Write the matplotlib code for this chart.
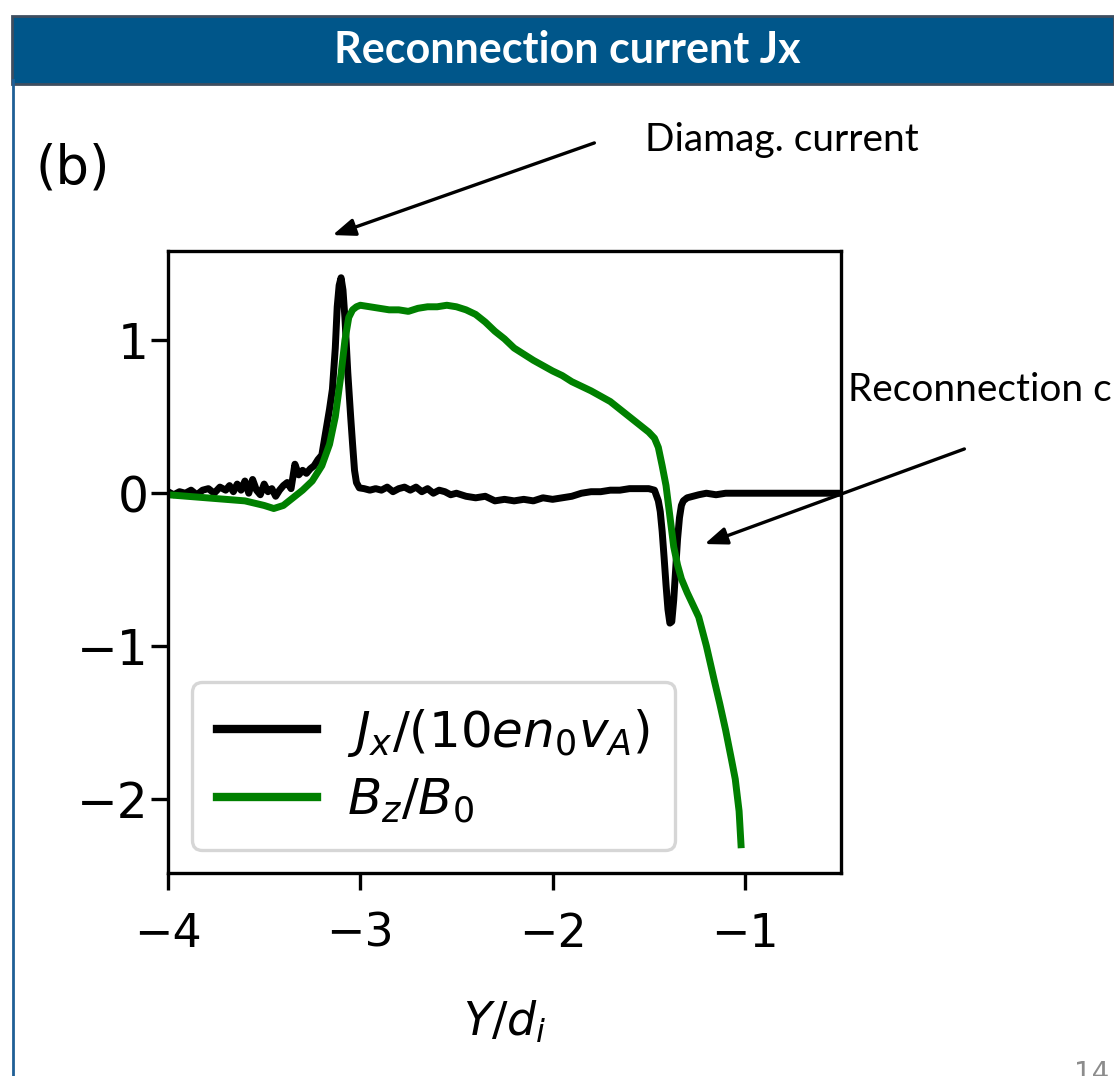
import matplotlib
matplotlib.use("Agg")
import matplotlib.pyplot as plt
from matplotlib.patches import Rectangle, FancyArrowPatch
from matplotlib.lines import Line2D

# ---------------- data ----------------
jx_pos = [-4.00, -3.97, -3.94, -3.91, -3.88, -3.85, -3.82, -3.79, -3.76, -3.73,
          -3.70, -3.68, -3.66, -3.64, -3.62, -3.60, -3.58, -3.56, -3.54, -3.52,
          -3.50, -3.48, -3.46, -3.44, -3.42, -3.40, -3.38, -3.36, -3.34, -3.32,
          -3.30, -3.28, -3.26, -3.24, -3.22, -3.20, -3.18, -3.16, -3.145, -3.13,
          -3.12, -3.11, -3.10, -3.09, -3.08, -3.065, -3.05, -3.04, -3.03, -3.02,
          -3.005, -2.98, -2.95, -2.92, -2.89, -2.86, -2.83, -2.80, -2.77, -2.74,
          -2.71, -2.68, -2.65, -2.62, -2.59, -2.56, -2.53, -2.50, -2.45, -2.40,
          -2.35, -2.30, -2.25, -2.20, -2.15, -2.10, -2.05, -2.00, -1.95, -1.90,
          -1.85, -1.80, -1.75, -1.70, -1.65, -1.60, -1.55, -1.50, -1.47, -1.45,
          -1.44, -1.43, -1.42, -1.41, -1.40, -1.39, -1.38, -1.37, -1.36, -1.35,
          -1.34, -1.33, -1.32, -1.30, -1.27, -1.24, -1.20, -1.15, -1.10, -1.00,
          -0.90, -0.80, -0.70, -0.60, -0.50]
jx_val = [0.01, -0.01, 0.01, 0.00, 0.02, -0.01, 0.02, 0.03, 0.00, 0.04,
          0.02, 0.05, 0.01, 0.06, 0.02, 0.08, 0.00, 0.09, 0.02, -0.01,
          0.06, 0.01, 0.03, -0.02, 0.02, 0.05, 0.07, 0.03, 0.19, 0.12,
          0.15, 0.13, 0.16, 0.18, 0.22, 0.25, 0.40, 0.55, 0.68, 0.95,
          1.22, 1.36, 1.41, 1.33, 1.15, 0.79, 0.50, 0.32, 0.15, 0.07,
          0.035, 0.03, 0.02, 0.03, 0.02, 0.04, 0.01, 0.03, 0.04, 0.02,
          0.04, 0.01, 0.03, 0.00, 0.02, 0.01, -0.01, 0.00, -0.02, -0.03,
          -0.02, -0.05, -0.04, -0.05, -0.04, -0.05, -0.03, -0.04, -0.03, -0.02,
          0.00, 0.01, 0.01, 0.02, 0.02, 0.03, 0.03, 0.03, 0.02, -0.05,
          -0.12, -0.25, -0.42, -0.60, -0.76, -0.85, -0.84, -0.70, -0.50, -0.30,
          -0.16, -0.08, -0.05, -0.03, -0.02, -0.01, 0.00, -0.01, 0.00, 0.00,
          0.00, 0.00, 0.00, 0.00, 0.00]

bz_pos = [-4.00, -3.90, -3.80, -3.70, -3.60, -3.50, -3.45, -3.40, -3.35, -3.30,
          -3.25, -3.20, -3.16, -3.13, -3.10, -3.08, -3.06, -3.04, -3.02, -3.00,
          -2.95, -2.90, -2.85, -2.80, -2.75, -2.70, -2.65, -2.60, -2.55, -2.50,
          -2.45, -2.40, -2.35, -2.30, -2.25, -2.20, -2.10, -2.00, -1.95, -1.90,
          -1.80, -1.70, -1.60, -1.55, -1.50, -1.47, -1.45, -1.43, -1.41, -1.39,
          -1.37, -1.35, -1.33, -1.30, -1.27, -1.24, -1.20, -1.16, -1.13, -1.10,
          -1.07, -1.05, -1.03, -1.02]
bz_val = [-0.01, -0.02, -0.03, -0.04, -0.05, -0.08, -0.10, -0.08, -0.03, 0.02,
          0.08, 0.18, 0.32, 0.50, 0.78, 1.00, 1.15, 1.20, 1.22, 1.23,
          1.22, 1.21, 1.20, 1.20, 1.19, 1.21, 1.22, 1.22, 1.23, 1.22,
          1.20, 1.17, 1.12, 1.06, 1.01, 0.95, 0.87, 0.80, 0.77, 0.73,
          0.67, 0.60, 0.50, 0.45, 0.40, 0.36, 0.30, 0.18, 0.05, -0.15,
          -0.35, -0.47, -0.56, -0.65, -0.73, -0.81, -1.00, -1.22, -1.38, -1.55,
          -1.74, -1.87, -2.08, -2.30]

x_ticks = [-4, -3, -2, -1]
y_ticks = [-2, -1, 0, 1]
labels = [r"$J_x/(10en_0v_A)$", r"$B_z/B_0$"]

# ---------------- figure ----------------
W, H = 1114, 1076
fig = plt.figure(figsize=(W / 100, H / 100), dpi=100)
fig.patch.set_facecolor("white")

def fx(px):
    return px / W

def fy(py):
    return 1 - py / H

# slide frame (left border)
fig.add_artist(Line2D([fx(13), fx(13)], [fy(80), fy(1076)], color="#1F5F96", lw=2.0))
# header bar
fig.add_artist(Rectangle((fx(12), fy(84)), fx(1114) - fx(12), fy(16) - fy(84),
                         facecolor="#00568A", edgecolor="#3E4E60", lw=2.0,
                         transform=fig.transFigure))
fig.text(fx(567), fy(50), "Reconnection current Jx", color="white",
         fontsize=31, fontweight="bold", family="Lato", ha="center", va="center")

FS = 33
# axes
ax = fig.add_axes([fx(168), fy(873), fx(841) - fx(168), fy(251) - fy(873)])
ax.plot(jx_pos, jx_val, color="black", lw=5.0, label=labels[0])
ax.plot(bz_pos, bz_val, color="green", lw=5.0, label=labels[1])
ax.set_xlim(-4, -0.5)
ax.set_ylim(-2.485, 1.585)
ax.set_xticks(x_ticks)
ax.set_yticks(y_ticks)
ax.tick_params(labelsize=FS, length=12, width=2.4)
ax.tick_params(axis="x", pad=16)
ax.tick_params(axis="y", pad=2, labelsize=35)
for s in ax.spines.values():
    s.set_linewidth(2.4)
ax.set_xlabel(r"$Y/d_i$", fontsize=FS, labelpad=30)
leg = ax.legend(loc="lower left", fontsize=36, handlelength=2.0,
                borderpad=0.5, labelspacing=0.35, handletextpad=0.6,
                borderaxespad=0.0, bbox_to_anchor=(0.036, 0.037), framealpha=0.8)
leg.get_frame().set_linewidth(2.4)
for ln in leg.get_lines():
    ln.set_linewidth(6)

# panel label
fig.text(fx(36), fy(168), "(b)", fontsize=38, ha="left", va="center")

# annotations
fig.text(fx(645), fy(140), "Diamag. current", fontsize=28, family="Lato",
         ha="left", va="center")
fig.text(fx(848), fy(390), "Reconnection current", fontsize=28, family="Lato",
         ha="left", va="center")
fig.text(fx(1074), fy(1074), "14", fontsize=20, color="#8C8C8C",
         ha="left", va="center")

arrow_kw = dict(arrowstyle="-|>,head_length=0.9,head_width=0.35", color="black",
                lw=2.4, mutation_scale=15, transform=fig.transFigure)
fig.add_artist(FancyArrowPatch((fx(597), fy(142)), (fx(330), fy(236)), **arrow_kw))
fig.add_artist(FancyArrowPatch((fx(967), fy(448)), (fx(702), fy(545)), **arrow_kw))

fig.savefig("out.png", dpi=100)
